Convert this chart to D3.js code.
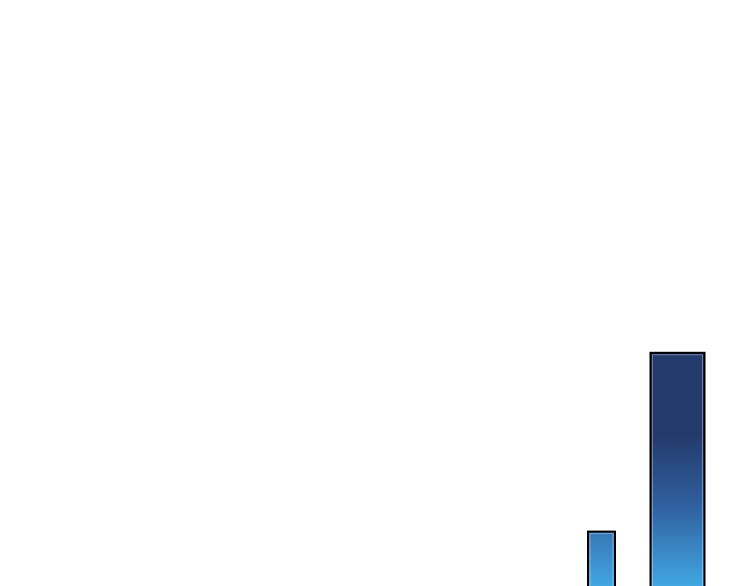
<!DOCTYPE html>
<html>
<head>
<meta charset="utf-8">
<script src="https://cdn.jsdelivr.net/npm/d3@7"></script>
<style>
  html, body { margin: 0; padding: 0; background: #ffffff; }
  svg { display: block; }
</style>
</head>
<body>
<svg id="chart" width="750" height="586"></svg>
<script>
// Data
const categories = ["A", "B"];
const values = [11.4, 41.2];
const widthWeights = [0.5, 1];

const W = 750, H = 586;
const svg = d3.select("#chart");

const x = d3.scalePoint().domain(categories).range([601.5, 677.5]);
const barW = 54;
const y = d3.scaleLinear().domain([0, 100]).range([600, 0]);

const defs = svg.append("defs");
const grad = defs.append("linearGradient")
  .attr("id", "barGrad")
  .attr("gradientUnits", "userSpaceOnUse")
  .attr("x1", 0).attr("x2", 0)
  .attr("y1", 435).attr("y2", 586);
grad.append("stop").attr("offset", "0%").attr("stop-color", "#243a6c");
grad.append("stop").attr("offset", "45%").attr("stop-color", "#2f5e9d");
grad.append("stop").attr("offset", "100%").attr("stop-color", "#41a6e2");

const data = categories.map((c, i) => ({ c, v: values[i], w: widthWeights[i] }));

const g = svg.append("g");
g.selectAll("rect.bar")
  .data(data)
  .join("rect")
  .attr("class", "bar")
  .attr("x", d => x(d.c) - barW * d.w / 2)
  .attr("width", d => barW * d.w)
  .attr("y", d => y(d.v))
  .attr("height", d => y(0) - y(d.v))
  .attr("fill", "url(#barGrad)")
  .attr("stroke", "#000")
  .attr("stroke-width", 2);

g.selectAll("rect.hl")
  .data(data)
  .join("rect")
  .attr("class", "hl")
  .attr("x", d => x(d.c) - barW * d.w / 2 + 2)
  .attr("width", d => barW * d.w - 4)
  .attr("y", d => y(d.v) + 2)
  .attr("height", d => y(0) - y(d.v))
  .attr("fill", "none")
  .attr("stroke", "#ffffff")
  .attr("stroke-opacity", 0.35)
  .attr("stroke-width", 1);
</script>
</body>
</html>
